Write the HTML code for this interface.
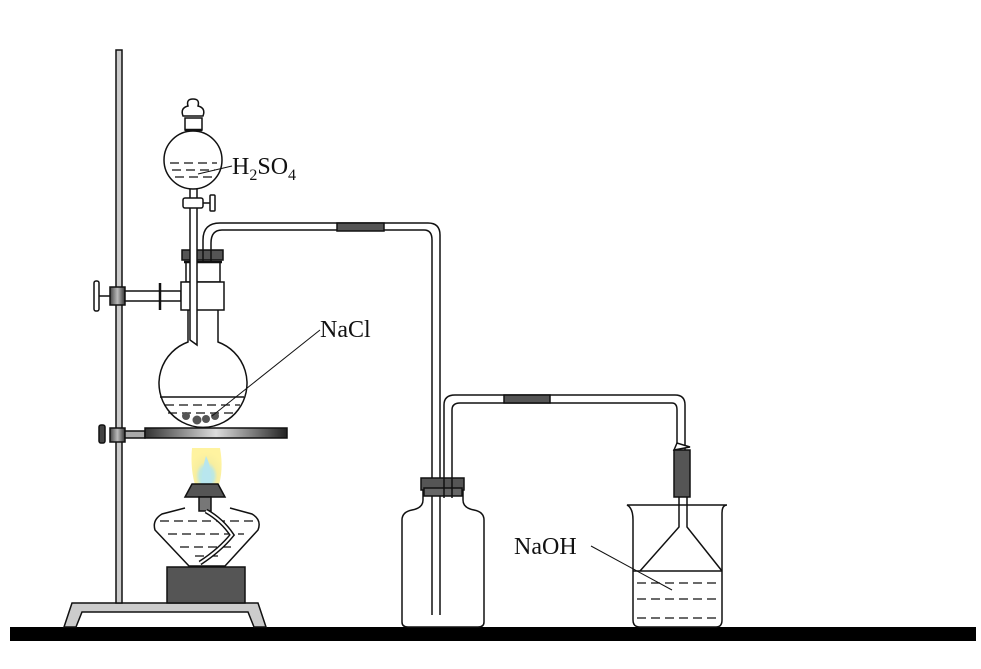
<!DOCTYPE html>
<html><head><style>body{margin:0;background:#fff}svg{display:block}text{font-family:"Liberation Serif",serif;fill:#111}</style></head>
<body>
<svg width="981" height="669" viewBox="0 0 981 669" xmlns="http://www.w3.org/2000/svg">
<defs>
<linearGradient id="ring" x1="0" x2="1"><stop offset="0" stop-color="#333"/><stop offset="0.5" stop-color="#ddd"/><stop offset="1" stop-color="#222"/></linearGradient>
<linearGradient id="gr" x1="0" x2="1"><stop offset="0" stop-color="#444"/><stop offset="0.5" stop-color="#bbb"/><stop offset="1" stop-color="#333"/></linearGradient>
<radialGradient id="fl" cx="0.5" cy="0.7" r="0.6"><stop offset="0" stop-color="#aee8f0"/><stop offset="0.4" stop-color="#bfe8e0"/><stop offset="0.6" stop-color="#f7eea0"/><stop offset="1" stop-color="#fff3a0"/></radialGradient>
</defs>
<g stroke="#111" stroke-width="1.5" fill="none">
<rect x="10" y="627" width="966" height="14" fill="#000" stroke="none"/>
<path d="M72,603 L258,603 L266,627 L254,627 L248,612 L82,612 L76,627 L64,627 Z" fill="#ccc"/>
<rect x="116" y="50" width="6" height="553" fill="#ccc"/>
<rect x="110" y="287" width="15" height="18" fill="url(#gr)"/>
<rect x="94" y="281" width="5" height="30" fill="#fff" rx="2"/>
<line x1="99" y1="296" x2="110" y2="296"/>
<rect x="125" y="291" width="56" height="10" fill="#fff"/>
<line x1="160" y1="283" x2="160" y2="310" stroke-width="2.5"/>
<rect x="110" y="428" width="15" height="14" fill="url(#gr)"/>
<rect x="99" y="425" width="6" height="18" fill="#444" rx="2"/>
<rect x="125" y="431" width="20" height="7" fill="#aaa"/>
<rect x="145" y="428" width="142" height="10" fill="url(#ring)"/>
<path d="M192,448 Q190,470 196,488 L218,488 Q224,470 220,448 Z" fill="url(#fl)" stroke="none"/>
<path d="M201,486 Q203,465 206,456 Q211,465 212,486 Z" fill="#b8e6ee" stroke="none"/>
<path d="M185,508 L162,514 Q152,520 155,530 L189,566 L225,566 L258,530 Q262,520 252,514 L230,508" fill="#fff"/>
<path d="M160,521 H258 M168,534 H244 M180,547 H232 M195,556 H220" stroke-dasharray="9,5" stroke-width="1.2"/>
<path d="M192,484 L218,484 L225,497 L185,497 Z" fill="#555"/>
<rect x="199" y="497" width="12" height="14" fill="#777"/>
<path d="M206,511 Q222,520 232,535 Q220,550 200,563" stroke-width="5"/>
<path d="M206,511 Q222,520 232,535 Q220,550 200,563" stroke="#fff" stroke-width="2"/>
<rect x="167" y="567" width="78" height="36" fill="#555"/>
<path d="M188,310 L188,342 A44,44 0 1 0 218,342 L218,310" fill="#fff"/>
<line x1="160" y1="397" x2="244" y2="397"/>
<path d="M165,405 H240 M168,413 H236" stroke-dasharray="9,5" stroke-width="1.2"/>
<g fill="#555" stroke="none"><circle cx="186" cy="416" r="4"/><circle cx="197" cy="420" r="4.5"/><circle cx="206" cy="419" r="4"/><circle cx="215" cy="416" r="4"/></g>
<line x1="212" y1="416" x2="320" y2="330" stroke-width="1"/>
<rect x="186" y="262" width="34" height="20" fill="#fff"/>
<rect x="181" y="282" width="43" height="28" fill="#fff"/>
<rect x="182" y="250" width="41" height="10" fill="#555"/>
<line x1="184" y1="262" x2="222" y2="262" stroke-width="2.5"/>
<path d="M190,185 L190,340 L197,345 L197,185" fill="#fff"/>
<rect x="183" y="198" width="20" height="10" fill="#fff" rx="2"/>
<rect x="210" y="195" width="5" height="16" fill="#fff" rx="1"/>
<line x1="203" y1="203" x2="210" y2="203"/>
<circle cx="193" cy="160" r="29" fill="#fff"/>
<path d="M170,163 H217 M172,170 H215 M175,177 H212" stroke-dasharray="9,5" stroke-width="1.2"/>
<line x1="198" y1="174" x2="232" y2="166" stroke-width="1"/>
<rect x="185" y="118" width="17" height="12" fill="#fff"/>
<line x1="185" y1="130" x2="202" y2="130" stroke-width="2.5"/>
<path d="M183,116 Q180,108 188,106 Q186,99 193,99 Q200,99 198,106 Q206,108 203,116 Z" fill="#fff"/>
<path d="M203,262 V240 Q203,223 220,223 H428 Q440,223 440,235 V615" />
<path d="M211,262 V243 Q211,230 222,230 H424 Q432,230 432,240 V615"/>
<rect x="337" y="223" width="47" height="8" fill="#555"/>
<path d="M423,480 L423,500 Q423,508 412,510 Q402,512 402,520 L402,622 Q402,627 408,627 L478,627 Q484,627 484,622 L484,520 Q484,512 474,510 Q463,508 463,500 L463,480" fill="#fff"/>
<line x1="432" y1="480" x2="432" y2="615"/><line x1="440" y1="480" x2="440" y2="615"/>
<path d="M421,478 H464 V490 H421 Z" fill="#555"/>
<rect x="424" y="488" width="38" height="8" fill="#666"/>
<path d="M444,498 V405 Q444,395 455,395 H675 Q685,395 685,405 V450"/>
<path d="M452,498 V410 Q452,403 460,403 H672 Q677,403 677,410 V450"/>
<rect x="504" y="395" width="46" height="8" fill="#555"/>
<rect x="674" y="450" width="16" height="47" fill="#555"/>
<path d="M674,450 L677,443 L690,447 Z" fill="#fff"/>
<path d="M627,505 Q633,508 633,520 L633,620 Q633,627 640,627 L716,627 Q722,627 722,620 L722,513 Q722,505 727,505 Z" fill="#fff"/>
<line x1="633" y1="571" x2="722" y2="571"/>
<path d="M637,583 H720 M637,599 H720 M637,618 H720" stroke-dasharray="9,5" stroke-width="1.2"/>
<path d="M679,497 V527 L640,571 M687,497 V527 L722,571"/>
<line x1="591" y1="546" x2="672" y2="590" stroke-width="1"/>
</g>
<text x="232" y="174" font-size="24">H<tspan font-size="16" dy="6">2</tspan><tspan dy="-6">SO</tspan><tspan font-size="16" dy="6">4</tspan></text>
<text x="320" y="337" font-size="24">NaCl</text>
<text x="514" y="554" font-size="24">NaOH</text>
</svg>
</body></html>
